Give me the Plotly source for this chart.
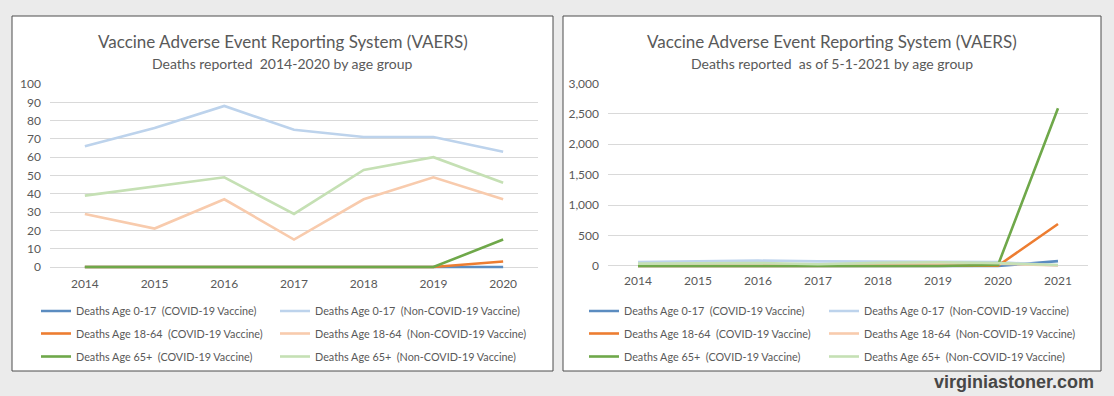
import plotly.graph_objects as go

# ---------------- data ----------------
years_left = ["2014", "2015", "2016", "2017", "2018", "2019", "2020"]
years_right = ["2014", "2015", "2016", "2017", "2018", "2019", "2020", "2021"]

series_names = [
    "Deaths Age 0-17  (COVID-19 Vaccine)",
    "Deaths Age 0-17  (Non-COVID-19 Vaccine)",
    "Deaths Age 18-64  (COVID-19 Vaccine)",
    "Deaths Age 18-64  (Non-COVID-19 Vaccine)",
    "Deaths Age 65+  (COVID-19 Vaccine)",
    "Deaths Age 65+  (Non-COVID-19 Vaccine)",
]

covid_0_17 = [0, 0, 0, 0, 0, 0, 0, 80]
non_covid_0_17 = [66, 76, 88, 75, 71, 71, 63, 10]
covid_18_64 = [0, 0, 0, 0, 0, 0, 3, 690]
non_covid_18_64 = [29, 21, 37, 15, 37, 49, 37, 8]
covid_65 = [0, 0, 0, 0, 0, 0, 15, 2590]
non_covid_65 = [39, 44, 49, 29, 53, 60, 46, 15]

series_values = [covid_0_17, non_covid_0_17, covid_18_64,
                 non_covid_18_64, covid_65, non_covid_65]
series_colors = ["#5b8cc0", "#bdd3ec", "#ed7d31", "#f8cbad", "#6fa84a", "#c5e0b4"]

left_title = "Vaccine Adverse Event Reporting System (VAERS)"
left_subtitle = "Deaths reported  2014-2020 by age group"
right_title = "Vaccine Adverse Event Reporting System (VAERS)"
right_subtitle = "Deaths reported  as of 5-1-2021 by age group"
watermark = "virginiastoner.com"

# ---------------- layout helpers ----------------
W, H = 1114, 396


def fx(x):
    return x / W


def fy(y):
    return 1 - y / H


FONT = "Lato, 'Open Sans', sans-serif"
TXT = "#595959"

fig = go.Figure()

# one legend per entry: 2 panels x 6 entries
row_y = [311, 333.5, 356.5]
col_x = [[36, 275], [584, 824]]
legend_defs = {}
k = 0
for p, (xs, xaxis, yaxis) in enumerate([(years_left, "x", "y"), (years_right, "x2", "y2")]):
    for i, (name, vals, col) in enumerate(zip(series_names, series_values, series_colors)):
        k += 1
        lname = "legend" if k == 1 else f"legend{k}"
        legend_defs[lname] = dict(
            orientation="h", x=fx(col_x[p][i % 2]), y=fy(row_y[i // 2]),
            xanchor="left", yanchor="middle",
            bgcolor="rgba(0,0,0,0)", borderwidth=0,
            font=dict(family=FONT, size=10.8, color=TXT),
            itemwidth=30,
        )
        fig.add_trace(go.Scatter(
            x=xs, y=vals[:len(xs)], mode="lines", name=name,
            line=dict(color=col, width=2.6), xaxis=xaxis, yaxis=yaxis,
            legend=lname, hoverinfo="x+y+name",
        ))

axis_common = dict(showline=False, ticks="", tickfont=dict(family=FONT, size=12, color=TXT))

layout = dict(
    width=W, height=H,
    margin=dict(l=0, r=0, t=0, b=0, autoexpand=False),
    paper_bgcolor="#ebebeb",
    plot_bgcolor="rgba(0,0,0,0)",
    font=dict(family=FONT, color=TXT),
    showlegend=True,
    xaxis=dict(domain=[fx(50), fx(538)], type="category", range=[-0.5, 6.5],
               showgrid=False, zeroline=False, anchor="y", ticklabelstandoff=4,
               **axis_common),
    yaxis=dict(domain=[fy(270.66), fy(84)], range=[-2, 100], tickmode="linear",
               tick0=0, dtick=10, showgrid=True, gridcolor="#d9d9d9", gridwidth=1,
               zeroline=True, zerolinecolor="#d9d9d9", zerolinewidth=1,
               ticklabelstandoff=8, anchor="x", **axis_common),
    xaxis2=dict(domain=[fx(608), fx(1088)], type="category", range=[-0.5, 7.5],
                showgrid=False, zeroline=False, anchor="y2", ticklabelstandoff=4,
                **axis_common),
    yaxis2=dict(domain=[fy(268.4), fy(83.3)], range=[-40, 3000], tickmode="linear",
                tick0=0, dtick=500, tickformat=",", showgrid=True, gridcolor="#d9d9d9",
                gridwidth=1, zeroline=True, zerolinecolor="#d9d9d9", zerolinewidth=1,
                ticklabelstandoff=8, anchor="x2", **axis_common),
)
layout.update(legend_defs)
fig.update_layout(**layout)

# panels (white boxes with border)
for (x0, x1) in [(12, 553), (563, 1101)]:
    fig.add_shape(type="rect", xref="paper", yref="paper",
                  x0=fx(x0), x1=fx(x1), y0=fy(371), y1=fy(16),
                  fillcolor="white", line=dict(color="#4d4d4d", width=1), layer="below")

# titles
for cx, t, s in [((12 + 553) / 2, left_title, left_subtitle),
                 ((563 + 1101) / 2, right_title, right_subtitle)]:
    fig.add_annotation(x=fx(cx), y=fy(41), xref="paper", yref="paper", text=t,
                       showarrow=False, xanchor="center", yanchor="middle",
                       font=dict(family=FONT, size=17, color=TXT))
    fig.add_annotation(x=fx(cx), y=fy(63.5), xref="paper", yref="paper", text=s,
                       showarrow=False, xanchor="center", yanchor="middle",
                       font=dict(family=FONT, size=14, color=TXT))

fig.add_annotation(x=fx(1096), y=fy(382), xref="paper", yref="paper", text=f"<b>{watermark}</b>",
                   showarrow=False, xanchor="right", yanchor="middle",
                   font=dict(family="'Liberation Sans', Arial, sans-serif", size=18, color="#474747"))

fig.write_html("out.html", config={"displayModeBar": False},
               post_script="document.body.style.margin='0';")
